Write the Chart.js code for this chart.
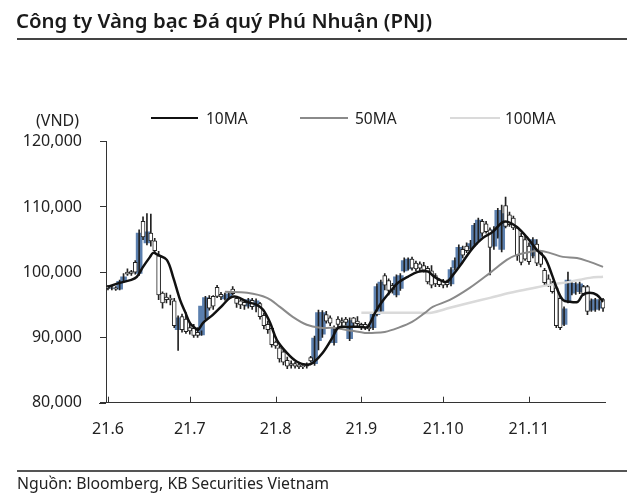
<!DOCTYPE html>
<html><head><meta charset="utf-8">
<script src="https://cdn.jsdelivr.net/npm/chart.js@4"></script>
<style>
html,body{margin:0;padding:0;background:#fff;}
#wrap{position:relative;width:640px;height:501px;overflow:hidden;font-family:"Noto Sans",sans-serif;color:#222;}
canvas{position:absolute;left:0;top:0;}
.t{position:absolute;white-space:nowrap;}
.ln{position:absolute;}
</style></head><body>
<div id="wrap">
<canvas id="c" width="640" height="501"></canvas>
<div class="t" style="left:16px;top:5px;font-size:20.4px;font-weight:600;line-height:30px;color:#1a1a1a;">Công ty Vàng bạc Đá quý Phú Nhuận (PNJ)</div>
<div class="ln" style="left:17px;top:38px;width:610px;height:2px;background:#444"></div>
<div class="t" style="left:36px;top:110px;font-size:16px;line-height:20px;">(VND)</div>
<div class="ln" style="left:151px;top:116.5px;width:47px;height:2.5px;background:#111"></div>
<div class="t" style="left:206px;top:108px;font-size:15.5px;line-height:20px;">10MA</div>
<div class="ln" style="left:300px;top:116.5px;width:48px;height:2.5px;background:#8a8a8a"></div>
<div class="t" style="left:355px;top:108px;font-size:15.5px;line-height:20px;">50MA</div>
<div class="ln" style="left:450px;top:116.5px;width:50px;height:2.5px;background:#dadada"></div>
<div class="t" style="left:505px;top:108px;font-size:15.5px;line-height:20px;">100MA</div>
<div class="ln" style="left:17px;top:470px;width:610px;height:1.5px;background:#555"></div>
<div class="t" style="left:17px;top:472px;font-size:15.8px;line-height:22px;">Nguồn: Bloomberg, KB Securities Vietnam</div>
</div>
<script>
// ---- data (VND), one entry per trading day, index 0 = early June 2021 ----
const opens  = [97800,97500,97600,97400,98600,100000,100100,101500,99800,107800,104500,106000,104800,102500,96800,96200,96000,95600,91200,93200,92800,91500,91400,90800,90400,93000,96000,96300,97700,96600,95900,96200,97400,96000,95600,95400,94800,95700,94800,95200,93400,92000,91400,89300,88400,87800,86500,86000,86000,85800,85700,85800,86900,86000,89500,90500,93500,93000,89200,92800,92600,92800,89800,93000,92500,92000,92000,91600,91500,93500,94000,99500,98700,98000,96500,97500,100200,100500,102000,101400,101300,101000,100600,100200,99500,98800,98600,98500,98200,100600,101300,103500,104000,103600,104300,105000,107800,107400,106500,104000,105500,103500,110200,108800,108300,106800,105500,105000,104000,102500,104300,103000,100300,99000,98300,97600,96000,92000,95600,96800,97200,97000,97800,97800,94200,94300,94500,95800];
const highs  = [98000,97900,97800,98800,99800,100500,100300,101800,106500,108500,109000,108900,105200,103200,97000,96800,96500,96000,93300,93600,93800,92300,92000,91500,91000,96300,96400,96400,98000,96900,96800,97000,97800,96300,95900,95700,96000,96000,95900,95400,93700,92500,91600,89500,88700,88100,87000,86400,86200,86100,86000,86100,87100,90200,94200,94100,94000,93300,91800,93200,93000,93100,93000,93100,93200,92200,92300,92000,93800,98200,98800,99800,99000,98300,99600,99800,102200,102200,102300,101700,101600,101500,100900,101000,99800,99000,98900,98800,100700,102200,104200,104000,104500,104900,107500,108300,108100,107800,106800,107000,109800,110300,111500,109200,108600,107000,106000,105500,104500,105300,105000,103300,100600,99600,98600,97800,96300,94700,100000,98500,98400,98500,98000,98000,95900,96000,95800,96000];
const lows   = [97300,97300,97200,97300,98400,99500,99500,99700,99500,105000,104200,104000,103000,95800,94500,95300,95000,91500,88000,90800,90600,90500,90000,90000,90300,92800,94200,94300,96100,95800,95700,96000,96500,94600,94400,94300,94500,94300,93900,92800,91300,90600,88500,88300,86200,85800,85200,85300,85300,85200,85200,85300,86200,85700,88100,90000,92200,91800,88800,91600,91800,91900,89500,91500,91800,91200,91200,91000,91200,93300,93800,97300,96500,96800,96200,97200,100000,100300,100300,100200,100200,100000,98200,97600,97800,97800,97600,97700,97900,100300,101000,102200,103000,103300,104000,104800,105500,106000,99600,103500,105200,103100,106800,107000,106500,101800,101100,101800,101200,102200,101000,100800,98000,97800,96800,91500,91200,91800,95300,96500,96600,96700,96400,93500,94000,94000,94200,94000];
const closes = [97500,97600,97400,98600,99300,99700,99800,100000,106000,105400,106200,104800,103300,96500,95300,95800,95800,91800,93000,91200,90900,91000,90300,90300,94800,96100,94500,94800,96300,96200,96500,96700,96700,95200,95000,94900,95800,94700,95600,93200,91800,91200,88900,88700,86700,86200,85600,85700,85600,85500,85500,85600,86400,89900,93800,93800,92500,92200,91500,92000,92300,92300,92600,92200,92100,91700,91500,91300,93600,97800,98500,98000,97200,97300,99300,99500,101800,102000,100600,100500,100600,100300,98500,98000,98200,98100,98000,98100,100400,101800,103800,102600,103300,104400,107200,108000,106000,106200,103800,106500,109500,109000,107000,107300,106800,102500,101500,102000,101600,105000,101400,101200,98400,98000,97000,91800,91500,94400,98800,98300,98000,98200,96700,94000,95600,95800,95500,94500];

// moving averages (day index, value)
const ma10Days   = [0,3,6,7.4,9,10.8,11.6,12.8,15.1,16.7,18.5,19.8,21,22.3,23.1,24.4,26.9,29.5,31.3,33.1,35.7,38.2,39.8,41.6,43.3,45.9,48.5,51,52.6,55.1,57.7,59,61.6,65.1,66.6,68.5,70.3,72.8,74.4,76.9,79.5,82.1,83.5,85.1,86.9,88.5,91,93.6,96.2,98.7,101,102.6,104.9,107.4,110,112.1,113.9,115.1,116.7,118.5,120.5,121.8,123.5,125.4,127];
const ma10Values = [97750,98360,98830,99290,100820,102350,102960,102650,101890,99290,95760,93920,92240,91470,91170,92240,93470,95000,96070,96220,95460,95000,94230,92240,89640,87650,86270,85810,86120,87650,90100,91470,91620,91620,91620,93770,95460,97300,98370,99290,100050,100100,99400,98830,98520,99590,101580,103730,105260,106180,107560,107710,106940,105410,103420,102190,99590,97600,95760,95460,95460,96530,96840,96530,95460];
const ma50Days   = [30,35.7,40.8,44.1,47.4,51,54.4,57.7,62.6,65.9,67.7,71,74.4,78,81.3,83.3,87.7,92.8,98,102.3,104.9,108.2,110.8,113.3,116.7,120.3,123.6,127];
const ma50Values = [96990,96840,96070,94690,93160,91940,91470,91470,91010,90700,90700,90850,91470,92390,93770,94690,95760,97600,99900,101890,102650,103110,103270,102960,102350,102190,101580,100820];
const ma100Days   = [65,70,75,80,83,87.7,92.8,98,103.2,108.2,113.3,118.4,123.6,127];
const ma100Values = [93770,93770,93770,93770,93800,94540,95310,96070,96840,97450,98060,98520,99130,99290];

const monthTicks  = [0,21,43,65,86,108];
const monthLabels = ['21.6','21.7','21.8','21.9','21.10','21.11'];
const yTicks      = [80000,90000,100000,110000,120000];
const yLabels     = ['80,000','90,000','100,000','110,000','120,000'];

const BLUE = '#5b7fae';
const isUp = i => closes[i] >= opens[i];
const wickData = lows.map((l,i)=>({x:i, y:[l, highs[i]]}));
const upBodies = opens.map((o,i)=>({x:i, y: isUp(i) ? [o, closes[i]] : null}));
const downBodies = opens.map((o,i)=>({x:i, y: isUp(i) ? null : [closes[i], o]}));
const pts = (xs,ys)=>xs.map((x,i)=>({x, y:ys[i]}));

const xTickMarks = {
  id:'xTickMarks',
  afterDatasetsDraw(chart){
    const s = chart.scales.x, ctx = chart.ctx, b = chart.chartArea.bottom;
    ctx.save(); ctx.strokeStyle='#333'; ctx.lineWidth=1;
    ctx.beginPath();
    s.ticks.forEach(t=>{const px=Math.round(s.getPixelForValue(t.value))+0.5; ctx.moveTo(px,b-6); ctx.lineTo(px,b);});
    ctx.moveTo(99,Math.round(b)+0.5); ctx.lineTo(chart.chartArea.left,Math.round(b)+0.5);
    ctx.stroke(); ctx.restore();
  }
};

new Chart(document.getElementById('c'), {
  type:'bar',
  data:{datasets:[
    {type:'line', label:'10MA', data:pts(ma10Days,ma10Values), borderColor:'#111', borderWidth:2.5, pointRadius:0, tension:0.35, order:0},
    {type:'line', label:'50MA', data:pts(ma50Days,ma50Values), borderColor:'#8a8a8a', borderWidth:2, pointRadius:0, tension:0.35, order:1},
    {type:'line', label:'100MA', data:pts(ma100Days,ma100Values), borderColor:'#dadada', borderWidth:2.5, pointRadius:0, tension:0.35, order:2},
    {label:'down', data:downBodies, grouped:false, barThickness:4, order:3, borderSkipped:false,
      backgroundColor:'#ffffff', borderColor:'#222', borderWidth:1},
    {label:'wick', data:wickData, grouped:false, barThickness:1, order:4, backgroundColor:'#222', borderWidth:0, borderSkipped:false},
    {label:'up', data:upBodies, grouped:false, barThickness:6, order:5, borderSkipped:false,
      backgroundColor:BLUE, borderWidth:0}
  ]},
  options:{
    responsive:false, animation:false, devicePixelRatio:1,
    layout:{padding:{left:0,right:35,top:141.7,bottom:0}},
    plugins:{legend:{display:false}, tooltip:{enabled:false}},
    scales:{
      x:{type:'linear', min:-0.5, max:127.5, offset:false,
        afterBuildTicks:s=>{s.ticks = monthTicks.map(v=>({value:v}));},
        afterFit:s=>{s.height = 98.3;},
        ticks:{callback:v=>monthLabels[monthTicks.indexOf(v)], color:'#222', font:{family:'Noto Sans', size:16}, padding:17, maxRotation:0, autoSkip:false},
        grid:{drawOnChartArea:false, drawTicks:false},
        border:{display:true, color:'#333', width:1}
      },
      y:{type:'linear', min:80000, max:120000,
        afterBuildTicks:s=>{s.ticks = yTicks.map(v=>({value:v}));},
        afterFit:s=>{s.width = 106;},
        ticks:{callback:v=>yLabels[yTicks.indexOf(v)], color:'#222', font:{family:'Noto Sans', size:16}, padding:18},
        grid:{drawOnChartArea:false, drawTicks:true, tickLength:6, color:'#333'},
        border:{display:true, color:'#333', width:1}
      }
    }
  },
  plugins:[xTickMarks]
});
</script>
</body></html>
